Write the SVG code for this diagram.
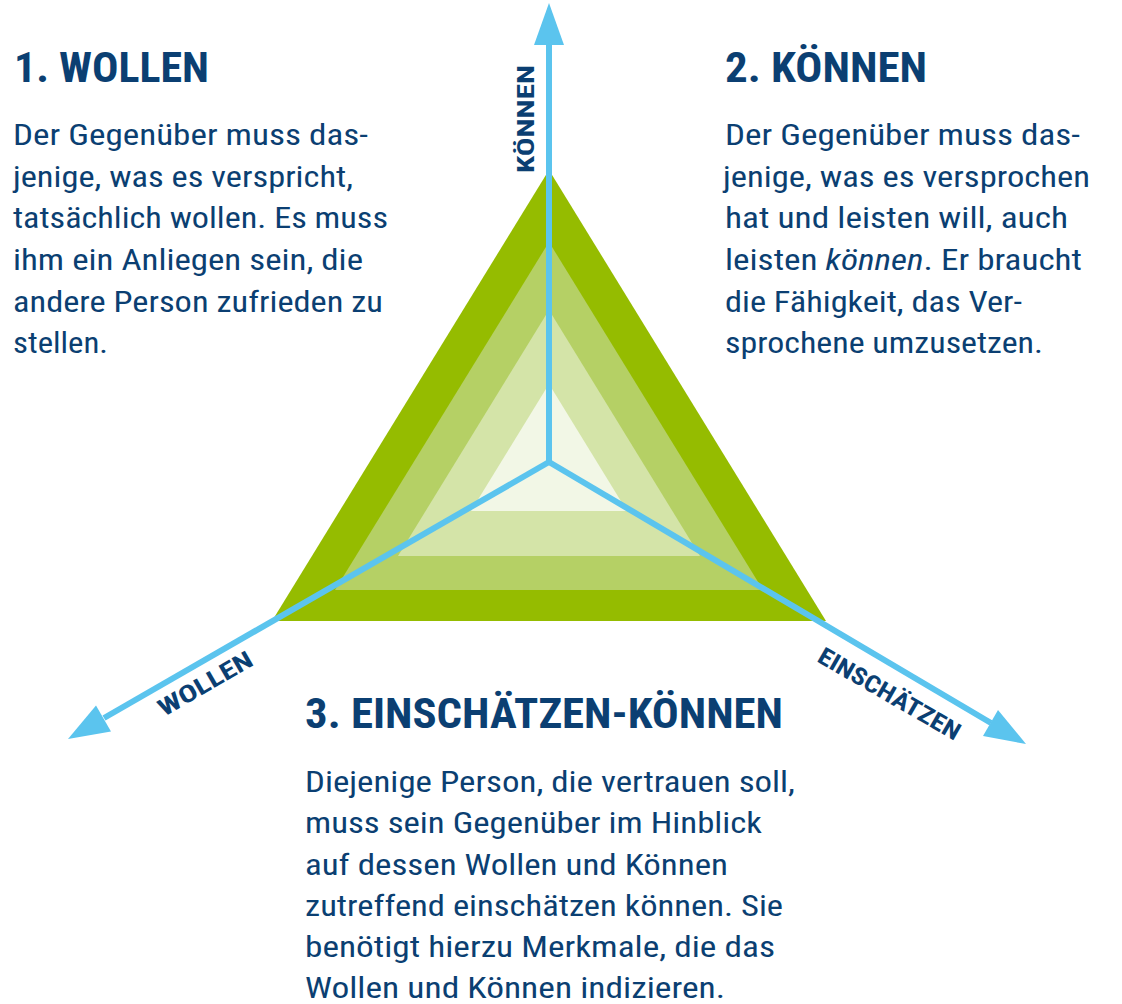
<svg xmlns="http://www.w3.org/2000/svg" width="1122" height="1004" viewBox="0 0 1122 1004">
<style>
text{font-family:"Liberation Sans Narrow","Roboto Condensed","DejaVu Sans Condensed","Liberation Sans",sans-serif;fill:#0B3F72}
.h{font-size:43px;font-weight:bold}
.b{font-size:29px}
.l{font-size:24px;font-weight:bold}
.ax{stroke:#5BC4EE;stroke-width:6;fill:none}
.ah{fill:#5BC4EE}
</style>
<rect width="1122" height="1004" fill="#ffffff"/>
<g id="triangle">
<polygon points="549,170 272,621 826,621" fill="#95BC00"/>
<polygon points="549,242 335,590 763,590" fill="#B5D065"/>
<polygon points="549,310 398,556 700,556" fill="#D4E4A8"/>
<polygon points="549,384 471,511 627,511" fill="#F2F7E6"/>
</g>
<g id="connectors">
<line class="ax" x1="549" y1="462" x2="549" y2="44"/>
<polygon class="ah" points="549,3 534,45 564,45"/>
<line class="ax" x1="549" y1="462" x2="104" y2="718"/>
<polygon class="ah" points="68,739 111,731.5 96,705.5"/>
<line class="ax" x1="549" y1="462" x2="991" y2="723"/>
<polygon class="ah" points="1026,744 983,736 998,710"/>
</g>
<g id="axis-labels">
<text class="l" transform="translate(534,173) rotate(-90)" textLength="108" lengthAdjust="spacingAndGlyphs">KÖNNEN</text>
<text class="l" transform="translate(164,717) rotate(-30)" textLength="105" lengthAdjust="spacingAndGlyphs">WOLLEN</text>
<text class="l" transform="translate(816,661) rotate(30)" textLength="160" lengthAdjust="spacingAndGlyphs">EINSCHÄTZEN</text>
</g>
<g id="wollen">
<text class="h" x="14" y="82" textLength="195" lengthAdjust="spacingAndGlyphs">1. WOLLEN</text>
<text class="b" x="13" y="145" textLength="355" lengthAdjust="spacingAndGlyphs">Der Gegenüber muss das-</text>
<text class="b" x="13" y="187" textLength="340" lengthAdjust="spacingAndGlyphs">jenige, was es verspricht,</text>
<text class="b" x="13" y="228" textLength="375" lengthAdjust="spacingAndGlyphs">tatsächlich wollen. Es muss</text>
<text class="b" x="13" y="270" textLength="350" lengthAdjust="spacingAndGlyphs">ihm ein Anliegen sein, die</text>
<text class="b" x="13" y="312" textLength="370" lengthAdjust="spacingAndGlyphs">andere Person zufrieden zu</text>
<text class="b" x="13" y="353" textLength="95" lengthAdjust="spacingAndGlyphs">stellen.</text>
</g>
<g id="koennen">
<text class="h" x="725" y="82" textLength="202" lengthAdjust="spacingAndGlyphs">2. KÖNNEN</text>
<text class="b" x="725" y="145" textLength="355" lengthAdjust="spacingAndGlyphs">Der Gegenüber muss das-</text>
<text class="b" x="723" y="187" textLength="367" lengthAdjust="spacingAndGlyphs">jenige, was es versprochen</text>
<text class="b" x="725" y="228" textLength="343" lengthAdjust="spacingAndGlyphs">hat und leisten will, auch</text>
<text class="b" x="725" y="270" textLength="357" lengthAdjust="spacingAndGlyphs">leisten <tspan font-style="italic">können</tspan>. Er braucht</text>
<text class="b" x="725" y="312" textLength="297" lengthAdjust="spacingAndGlyphs">die Fähigkeit, das Ver-</text>
<text class="b" x="725" y="353" textLength="318" lengthAdjust="spacingAndGlyphs">sprochene umzusetzen.</text>
</g>
<g id="einschaetzen">
<text class="h" x="305" y="728" textLength="478" lengthAdjust="spacingAndGlyphs">3. EINSCHÄTZEN-KÖNNEN</text>
<text class="b" x="305" y="792" textLength="490" lengthAdjust="spacingAndGlyphs">Diejenige Person, die vertrauen soll,</text>
<text class="b" x="305" y="833" textLength="457" lengthAdjust="spacingAndGlyphs">muss sein Gegenüber im Hinblick</text>
<text class="b" x="305" y="875" textLength="423" lengthAdjust="spacingAndGlyphs">auf dessen Wollen und Können</text>
<text class="b" x="305" y="916" textLength="478" lengthAdjust="spacingAndGlyphs">zutreffend einschätzen können. Sie</text>
<text class="b" x="305" y="957" textLength="470" lengthAdjust="spacingAndGlyphs">benötigt hierzu Merkmale, die das</text>
<text class="b" x="305" y="998" textLength="420" lengthAdjust="spacingAndGlyphs">Wollen und Können indizieren.</text>
</g>
</svg>
